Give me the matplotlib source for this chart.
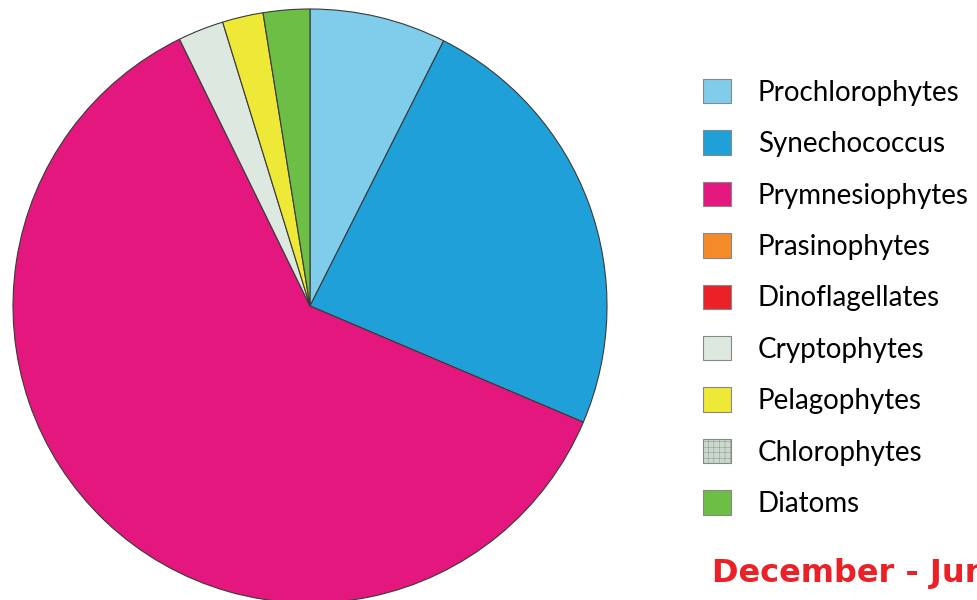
import matplotlib.pyplot as plt
from matplotlib.patches import Patch

groups = ["Prochlorophytes", "Synechococcus", "Prymnesiophytes", "Prasinophytes",
          "Dinoflagellates", "Cryptophytes", "Pelagophytes", "Chlorophytes", "Diatoms"]
share = [7.43, 23.97, 61.37, 0, 0, 2.49, 2.22, 0, 2.53]
colors = ["#7fcdea", "#1fa0d8", "#e3177d", "#f58a28", "#ec2127",
          "#dde8e0", "#eee836", "#c9dacd", "#6dbe45"]

plt.rcParams["hatch.color"] = "#bfd0c4"
plt.rcParams["hatch.linewidth"] = 0.3

fig = plt.figure(figsize=(9.78, 6), dpi=100)
W, H = 978, 600
cx, cy, r = 310, 306, 297
ax = fig.add_axes([(cx - r) / W, (H - cy - r) / H, 2 * r / W, 2 * r / H])

nz = [i for i, v in enumerate(share) if v > 0]
ax.pie([share[i] for i in nz], colors=[colors[i] for i in nz], startangle=90,
       counterclock=False, radius=1,
       wedgeprops=dict(edgecolor="#3a3a3a", linewidth=0.8))
# pie() resets the limits, so fix them afterwards
ax.set_xlim(-1, 1)
ax.set_ylim(-1, 1)
ax.axis("off")

handles = []
for g, c in zip(groups, colors):
    hatch = "+++" if g == "Chlorophytes" else None
    handles.append(Patch(facecolor=c, edgecolor="#888888", linewidth=0.8,
                         hatch=hatch, label=g))

leg = fig.legend(handles=handles, loc="upper left",
                 bbox_to_anchor=(703 / W, 1 - 79 / H), frameon=False,
                 prop=dict(family="Lato", size=20),
                 handlelength=1.0, handleheight=0.97, handletextpad=0.97,
                 labelspacing=0.89, borderaxespad=0, borderpad=0)

fig.text(712 / W, 1 - 582 / H, "December - June", color="#ec2027",
         fontsize=23, fontweight="bold", family="DejaVu Sans")

fig.savefig("out.png", dpi=100)
